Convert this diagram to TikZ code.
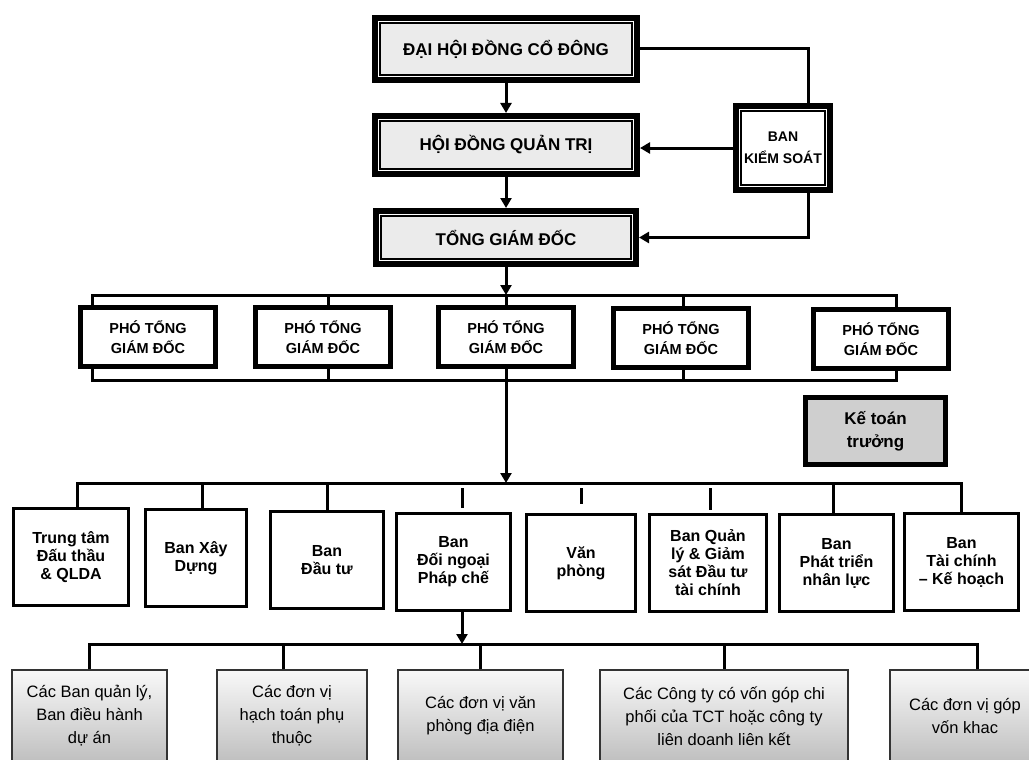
\documentclass[tikz,border=0pt]{standalone}
\usepackage{fontspec}
\setmainfont{Liberation Sans}
\usetikzlibrary{arrows.meta,calc}
\begin{document}
\begin{tikzpicture}[x=1pt,y=-1pt,
  conn/.style={line width=3pt},
  arr/.style={conn,-{Triangle[length=10pt,width=11pt]}},
  dblbox/.style={draw,line width=6pt,fill=white,inner sep=0pt,align=center,
    path picture={\draw[line width=1.2pt,fill=#1]
      ([xshift=5pt,yshift=-5pt]path picture bounding box.north west) rectangle
      ([xshift=-5pt,yshift=5pt]path picture bounding box.south east);}},
  topbox/.style={dblbox=gray!16,font=\bfseries\fontsize{17}{20}\selectfont},
  ksbox/.style={dblbox=white,font=\bfseries\fontsize{14}{22}\selectfont},
  phobox/.style={draw,line width=5pt,fill=white,inner sep=0pt,align=center,
    minimum width=135pt,minimum height=59pt,font=\bfseries\fontsize{14.5}{20}\selectfont},
  kttbox/.style={draw,line width=4.5pt,fill=gray!38,inner sep=0pt,align=center,
    font=\bfseries\fontsize{17}{23}\selectfont},
  deptbox/.style={draw,line width=3.2pt,fill=white,inner sep=0pt,align=center,
    minimum height=97pt,font=\bfseries\fontsize{16}{18}\selectfont},
  unitbox/.style={draw=black!80,line width=1.2pt,top color=gray!5,bottom color=gray!50,
    inner sep=0pt,align=center,minimum height=92pt,font=\fontsize{16.5}{23}\selectfont}
]
\useasboundingbox (0,0) rectangle (1029,760);
\clip (0,0) rectangle (1029,760);

% top level
\node[topbox,minimum width=262pt,minimum height=62pt] (dh) at (506,49) {ĐẠI HỘI ĐỒNG CỔ ĐÔNG};
\node[topbox,minimum width=262pt,minimum height=58pt] (hd) at (506,145) {HỘI ĐỒNG QUẢN TRỊ};
\node[topbox,minimum width=260pt,minimum height=53pt] (tg) at (506,237.5) {TỔNG GIÁM ĐỐC};
\node[ksbox,minimum width=94pt,minimum height=84pt] (bks) at (783,148) {BAN\\KIỂM SOÁT};

\draw[arr] (dh.south) -- (hd.north);
\draw[arr] (hd.south) -- (tg.north);
\draw[conn] (dh.east) -| ($(bks.north)+(25,0)$);
\draw[arr] (bks.west) -- (bks.west -| hd.east);
\draw[arr] ($(bks.south)+(25,0)$) |- (tg.east);

% deputies
\node[phobox] (p1) at (148,337) {PHÓ TỔNG\\GIÁM ĐỐC};
\node[phobox] (p2) at (323,337) {PHÓ TỔNG\\GIÁM ĐỐC};
\node[phobox] (p3) at (506,337) {PHÓ TỔNG\\GIÁM ĐỐC};
\node[phobox] (p4) at (681,338) {PHÓ TỔNG\\GIÁM ĐỐC};
\node[phobox] (p5) at (881,339) {PHÓ TỔNG\\GIÁM ĐỐC};

\coordinate (ptop) at (506,295);
\coordinate (pbot) at (506,380);
\draw[conn] ($(p1.north)+(-56,0)$) |- (ptop) -| ($(p5.north)+(15,0)$);
\draw[conn] ($(p1.south)+(-56,0)$) |- (pbot) -| ($(p5.south)+(15,0)$);
\draw[conn] ($(p2.north)+(5,0)$) |- (ptop);
\draw[conn] ($(p2.south)+(5,0)$) |- (pbot);
\draw[conn] ($(p4.north)+(2,0)$) |- (ptop);
\draw[conn] ($(p4.south)+(2,0)$) |- (pbot);
\draw[arr] (tg.south) -- (ptop);
\draw[conn] (p3.north) -- (ptop);

% chief accountant
\node[kttbox,minimum width=140pt,minimum height=67pt] (ktt) at (875.5,431) {Kế toán\\trưởng};

% departments
\node[deptbox,minimum width=115pt] (d1) at (71,557) {Trung tâm\\Đấu thầu\\\& QLDA};
\node[deptbox,minimum width=101pt] (d2) at (196,558) {Ban Xây\\Dựng};
\node[deptbox,minimum width=113pt] (d3) at (327,560) {Ban\\Đầu tư};
\node[deptbox,minimum width=114pt] (d4) at (453.5,562) {Ban\\Đối ngoại\\Pháp chế};
\node[deptbox,minimum width=109pt] (d5) at (581,563) {Văn\\phòng};
\node[deptbox,minimum width=117pt] (d6) at (708,563) {Ban Quản\\lý \& Giảm\\sát Đầu tư\\tài chính};
\node[deptbox,minimum width=114pt] (d7) at (836.5,563) {Ban\\Phát triển\\nhân lực};
\node[deptbox,minimum width=114pt] (d8) at (961.5,562) {Ban\\Tài chính\\– Kế hoạch};

\coordinate (dbus) at (506,483);
\draw[arr] (p3.south) -- (dbus);
\draw[conn] ($(ktt.west)+(0,-7)$) -- ($(ktt.west)+(0,-7)$ -| p3.south);
\draw[conn] ($(d1.north)+(6,0)$) |- (dbus) -| (d8.north);
\draw[conn] ($(d2.north)+(6,0)$) |- (dbus);
\draw[conn] (d3.north) |- (dbus);
\draw[conn] ($(d7.north)+(-3.5,0)$) |- (dbus);
\draw[conn,shorten <=4pt,shorten >=5pt] ($(d4.north)+(8.5,0)$) -- ($(d4.north |- dbus)+(8.5,0)$);
\draw[conn,shorten <=9pt,shorten >=5pt] (d5.north) -- (d5.north |- dbus);
\draw[conn,shorten <=3pt,shorten >=5pt] ($(d6.north)+(2,0)$) -- ($(d6.north |- dbus)+(2,0)$);

% units
\node[unitbox,minimum width=155pt] (b1) at (89.5,716) {Các Ban quản lý,\\Ban điều hành\\dự án};
\node[unitbox,minimum width=150pt] (b2) at (292,716) {Các đơn vị\\hạch toán phụ\\thuộc};
\node[unitbox,minimum width=165pt] (b3) at (480.5,716) {Các đơn vị văn\\phòng địa điện};
\node[unitbox,minimum width=248pt] (b4) at (724,716) {Các Công ty có vốn góp chi\\phối của TCT hoặc công ty\\liên doanh liên kết};
\node[unitbox,minimum width=150pt] (b5) at (965,716) {Các đơn vị góp\\vốn khac};

\coordinate (bbus) at (462,644);
\draw[arr] ($(d4.south)+(8.5,0)$) -- (bbus);
\draw[conn] (b1.north) |- (bbus) -| ($(b5.north)+(12,0)$);
\draw[conn] ($(b2.north)+(-9,0)$) |- (bbus);
\draw[conn] (b3.north) |- (bbus);
\draw[conn] (b4.north) |- (bbus);
\end{tikzpicture}
\end{document}
